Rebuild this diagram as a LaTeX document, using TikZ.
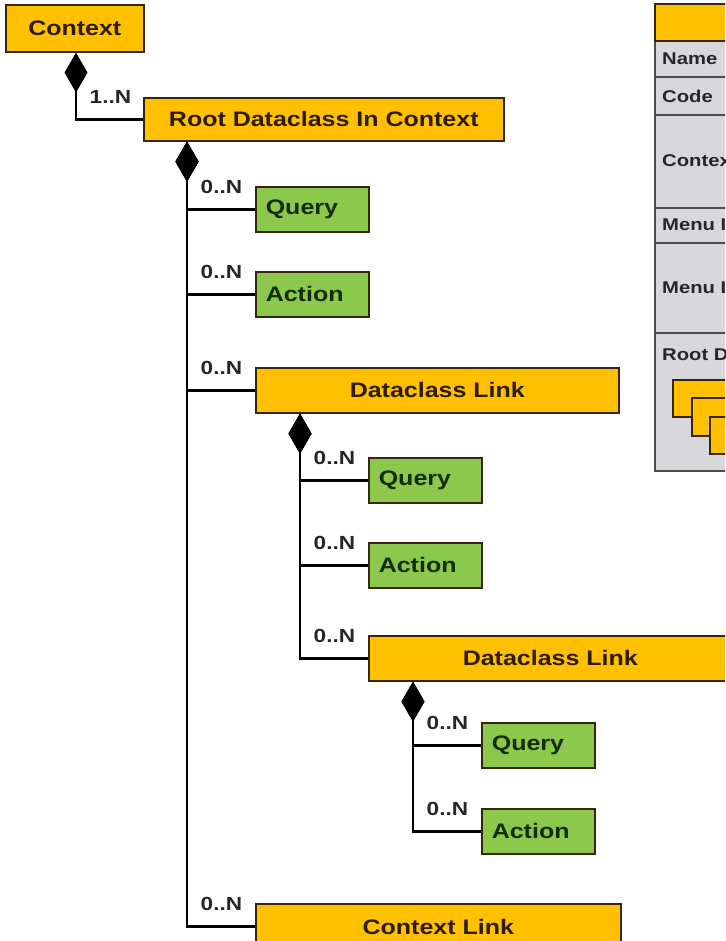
\documentclass[tikz,border=0pt]{standalone}
\usepackage{fontspec}
\setmainfont{Liberation Sans}[FakeStretch=1.19]
\usepackage{xcolor}
\usetikzlibrary{arrows.meta}
\definecolor{boxorange}{RGB}{255,192,0}
\definecolor{boxgreen}{RGB}{140,200,75}
\definecolor{panelgray}{RGB}{216,216,220}
\definecolor{edgedark}{RGB}{55,38,10}
\definecolor{textbrown}{RGB}{45,28,0}
\definecolor{textgreen}{RGB}{20,45,0}

\begin{document}
\begin{tikzpicture}[x=1pt, y=-1pt,
  classbox/.style={draw=edgedark, line width=1.6pt, fill=boxorange, text=textbrown,
    font=\fontsize{21}{24}\selectfont\bfseries, anchor=north west, inner sep=0pt, minimum height=45pt},
  itembox/.style={draw=edgedark, line width=1.6pt, fill=boxgreen, text=textgreen,
    font=\fontsize{21}{24}\selectfont\bfseries, anchor=north west, inner xsep=10pt, inner ysep=0pt,
    text width=93pt, align=left, minimum height=45pt},
  owns/.style={{Diamond[length=40pt,width=23pt]}-, line width=2.7pt, black},
  mult/.style={font=\fontsize{19}{22}\selectfont\bfseries, text=black!85, anchor=base west, xshift=9pt, yshift=16pt},
  fieldname/.style={font=\fontsize{17}{20}\selectfont\bfseries, text=black!85, anchor=west, inner sep=0pt}]
  \useasboundingbox (0,0) rectangle (725,941);
  \clip (0,0) rectangle (725,941);

  % classes
  \node[classbox, minimum width=138pt, minimum height=47pt] (ctx) at (5,4) {Context};
  \node[classbox, minimum width=360pt, minimum height=43pt] (root) at (143,97) {Root Dataclass In Context};
  \node[itembox] (q1) at (255,186) {Query};
  \node[itembox] (a1) at (255,271) {Action};
  \node[classbox, minimum width=363pt] (dl1) at (255,367) {Dataclass Link};
  \node[itembox] (q2) at (368,457) {Query};
  \node[itembox] (a2) at (368,542) {Action};
  \node[classbox, minimum width=363pt] (dl2) at (368,635) {Dataclass Link};
  \node[itembox] (q3) at (481,722) {Query};
  \node[itembox] (a3) at (481,808) {Action};
  \node[classbox, minimum width=365pt, minimum height=46pt] (cl) at (255,903) {Context Link};

  % compositions
  \draw[owns] ([xshift=71pt]ctx.south west) |- node[mult] (m0) {1..N} (root.west);
  \draw[owns] ([xshift=44pt]root.south west) |- node[mult] (m1) {0..N} (q1.west);
  \draw[owns] ([xshift=44pt]root.south west) |- node[mult] (m2) {0..N} (a1.west);
  \draw[owns] ([xshift=44pt]root.south west) |- node[mult] (m3) {0..N} (dl1.west);
  \draw[owns] ([xshift=44pt]root.south west) |- node[mult] (m4) {0..N} (cl.west);
  \draw[owns] ([xshift=45pt]dl1.south west) |- node[mult] (m5) {0..N} (q2.west);
  \draw[owns] ([xshift=45pt]dl1.south west) |- node[mult] (m6) {0..N} (a2.west);
  \draw[owns] ([xshift=45pt]dl1.south west) |- node[mult] (m7) {0..N} (dl2.west);
  \draw[owns] ([xshift=45pt]dl2.south west) |- node[mult] (m8) {0..N} (q3.west);
  \draw[owns] ([xshift=45pt]dl2.south west) |- node[mult] (m9) {0..N} (a3.west);

  % property panel
  \draw[fill=panelgray, draw=black!70, line width=1.6pt] (655,4) rectangle (760,471);
  \draw[fill=boxorange, draw=edgedark, line width=1.6pt] (655,4) rectangle (760,41);
  \foreach \y in {77,115,208,243,333}
    \draw[black!70, line width=1.2pt] (655,\y) -- (760,\y);
  \node[fieldname] (fname) at (662,59) {Name};
  \node[fieldname] (fcode) at (662,96) {Code};
  \node[fieldname] (fctx) at (662,161) {Context};
  \node[fieldname] (fmenu) at (662,225) {Menu Item};
  \node[fieldname] (fmenu2) at (662,288) {Menu Item};
  \node[fieldname] (froot) at (662,354) {Root Dataclasses};
  \draw[fill=boxorange, draw=edgedark, line width=1.6pt] (673,380) rectangle (780,417);
  \draw[fill=boxorange, draw=edgedark, line width=1.6pt] (692,398) rectangle (780,436);
  \draw[fill=boxorange, draw=edgedark, line width=1.6pt] (710,417) rectangle (780,454);
\end{tikzpicture}
\end{document}
